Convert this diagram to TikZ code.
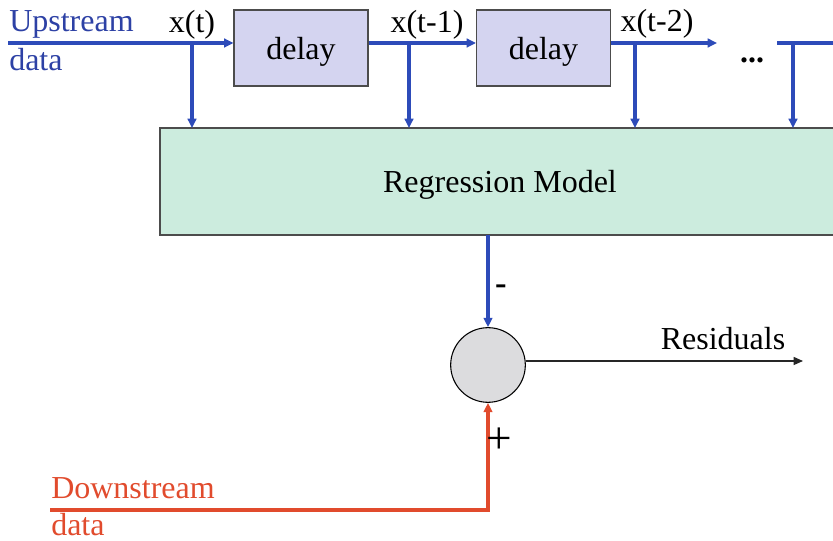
\documentclass[tikz,border=0pt]{standalone}
\usepackage{fontspec}
\setmainfont{Liberation Serif}
\usetikzlibrary{arrows.meta}
\definecolor{upblue}{RGB}{45,65,165}
\definecolor{lineblue}{RGB}{45,75,185}
\definecolor{downred}{RGB}{225,75,45}
\definecolor{delayfill}{RGB}{212,212,240}
\definecolor{regfill}{RGB}{204,236,222}
\definecolor{sumfill}{RGB}{220,220,222}
\tikzset{
  bluearrow/.style={draw=lineblue, line width=2.4pt, -{Triangle[length=7pt,width=6.5pt]}},
  redarrow/.style={draw=downred, line width=2.4pt, -{Triangle[length=7pt,width=6.5pt]}},
  delaybox/.style={draw=black!70, fill=delayfill, line width=0.8pt, minimum width=100.5pt, minimum height=57pt, inner sep=0pt},
  lbl/.style={font=\fontsize{24}{28}\selectfont, inner sep=0pt},
}
\begin{document}
\begin{tikzpicture}[x=0.75pt,y=-0.75pt]
\useasboundingbox (0,0) rectangle (833,541);
% nodes
\node[delaybox] (d1) at (301,48) {};
\node[delaybox] (d2) at (543.5,48) {};
\node[lbl, anchor=base] at (301,60) {delay};
\node[lbl, anchor=base] at (543.5,60) {delay};
\draw[draw=black!70, fill=regfill, line width=0.8pt] (160,128) rectangle (860,235);
\node[lbl, anchor=base] (reglbl) at (500,193) {Regression Model};
\node[circle, draw=black, fill=sumfill, line width=0.8pt, minimum size=56pt, inner sep=0pt] (sum) at (488,365) {};
% upstream labels
\node[lbl, anchor=base west, text=upblue] (up1) at (9,32) {Upstream};
\node[lbl, anchor=base west, text=upblue] (up2) at (9,71) {data};
\node[lbl, anchor=base] (xt) at (192,33) {x(t)};
\node[lbl, anchor=base] (xt1) at (427,33) {x(t-1)};
\node[lbl, anchor=base] (xt2) at (657,32) {x(t-2)};
\node[lbl, anchor=base, font=\fontsize{24}{28}\selectfont\bfseries] (dots) at (752,63) {...};
% coordinates
\coordinate (s0) at (8,43);
\coordinate (s3) at (777,43);
\coordinate (s4) at (845,43);
\coordinate (a2e) at (717,43);
\coordinate (b0) at (192,43);
\coordinate (b1) at (409,43);
\coordinate (b2) at (635,43);
\coordinate (b3) at (793,43);
% top flow
\draw[bluearrow] (s0) -- (s0 -| d1.west);
\draw[bluearrow] (s0 -| d1.east) -- (s0 -| d2.west);
\draw[bluearrow] (s0 -| d2.east) -- (a2e);
\draw[bluearrow] (s3) -- (s4);
\foreach \b in {b0,b1,b2,b3}{
  \draw[bluearrow] (\b) -- (\b |- 0,128);
}
% output
\coordinate (regbot) at (488,235);
\draw[bluearrow] (regbot) -- (sum.north);
\node[lbl, font=\fontsize{26}{28}\selectfont\bfseries] (minus) at (501,290) {-};
\coordinate (resend) at (803,361);
\draw[line width=1pt, draw=black!85, -{Triangle[length=7pt,width=6pt]}] (sum.east |- resend) -- (resend);
\node[lbl, anchor=base] (res) at (723,350) {Residuals};
% downstream
\coordinate (dstart) at (50,510);
\draw[redarrow] (dstart) -| (sum.south);
\node[lbl, font=\fontsize{34}{36}\selectfont] (plus) at (499,441) {+};
\node[lbl, anchor=base west, text=downred] (dn1) at (51,499) {Downstream};
\node[lbl, anchor=base west, text=downred] (dn2) at (51,536) {data};
\end{tikzpicture}
\end{document}
